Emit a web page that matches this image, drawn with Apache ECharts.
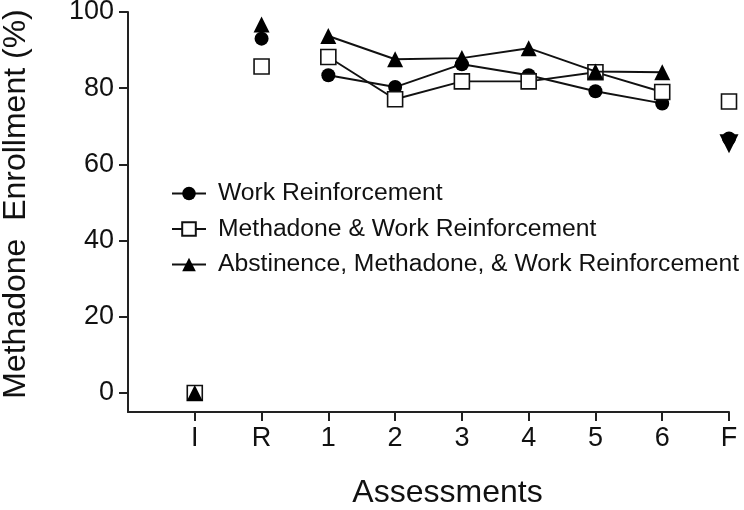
<!DOCTYPE html>
<html>
<head>
<meta charset="utf-8">
<script src="https://cdn.jsdelivr.net/npm/echarts@6/dist/echarts.min.js"></script>
<style>html,body{margin:0;padding:0;background:#fff}#c{width:744px;height:510px}</style>
</head>
<body>
<div id="c"></div>
<script>
const categories = ['I', 'R', '1', '2', '3', '4', '5', '6', 'F'];
const yTicks = [0, 20, 40, 60, 80, 100];
const workReinf = [0, 93.0, 83.4, 80.3, 86.3, 83.4, 79.2, 76.0, 66.8];
const methWorkReinf = [0, 85.7, 88.2, 77.1, 81.8, 81.8, 84.2, 79.0, 76.5];
const abstMethWorkReinf = [0, 96.7, 93.7, 87.6, 87.9, 90.5, 84.4, 84.2, 65.4];
const names = ['Work Reinforcement', 'Methadone & Work Reinforcement', 'Abstinence, Methadone, & Work Reinforcement'];
const connected = [2, 3, 4, 5, 6, 7];   // assessments 1..6 are joined by lines
const isolated = [0, 1, 8];             // I, R, F stand alone

const FONT = '"Liberation Sans", Arial, sans-serif';
const styles = [
  {symbol: 'circle', symbolSize: 14, itemStyle: {color: '#000', borderColor: '#000', borderWidth: 0, opacity: 1}},
  {symbol: 'rect', symbolSize: 15, itemStyle: {color: '#fff', borderColor: '#111', borderWidth: 1.6, opacity: 1}},
  {symbol: 'triangle', symbolSize: 16, itemStyle: {color: '#000', borderColor: '#000', borderWidth: 0, opacity: 1}}
];
const groups = [workReinf, methWorkReinf, abstMethWorkReinf];

const series = [];
groups.forEach((vals, g) => {
  const st = styles[g];
  series.push({
    name: names[g], type: 'line', z: 2 + g,
    symbol: st.symbol, symbolSize: st.symbolSize, itemStyle: st.itemStyle,
    lineStyle: {color: '#111', width: 1.9},
    showAllSymbol: true, animation: false,
    data: connected.map(i => [i, vals[i]])
  });
  series.push({
    name: names[g] + ' ', type: 'scatter', z: 2 + g,
    symbol: st.symbol, symbolSize: st.symbolSize, itemStyle: st.itemStyle,
    animation: false,
    data: isolated.map(i => (g === 2 && i === 8) ? {value: [i, vals[i]], symbolRotate: 180, symbolSize: 19} : [i, vals[i]])
  });
});

const chart = echarts.init(document.getElementById('c'), null, {renderer: 'canvas'});
chart.setOption({
  backgroundColor: '#fff',
  animation: false,
  grid: {left: 128, right: 15, top: 12, bottom: 98, containLabel: false, outerBoundsMode: 'none'},
  legend: {
    data: names, orient: 'vertical', left: 166, top: 176,
    itemWidth: 34, itemHeight: 17, itemGap: 10.5,
    textStyle: {fontFamily: FONT, fontSize: 24.7, color: '#111', lineHeight: 24, padding: [0, 0, 0, 7]}
  },
  xAxis: {
    type: 'value', min: -1, max: 8, interval: 1,
    name: 'Assessments', nameLocation: 'middle', nameGap: 65,
    nameTextStyle: {fontFamily: FONT, fontSize: 32, color: '#111', padding: [0, 0, 0, 38]},
    axisLine: {onZero: false, lineStyle: {color: '#222', width: 2}},
    axisTick: {show: true, inside: false, length: 9, lineStyle: {color: '#222', width: 2}, customValues: categories.map((c, i) => i)},
    axisLabel: {customValues: categories.map((c, i) => i), formatter: v => categories[v] ?? '', fontFamily: FONT, fontSize: 27, color: '#111', margin: 13},
    splitLine: {show: false}
  },
  yAxis: {
    type: 'value', min: -5, max: 100,
    name: 'Methadone  Enrollment (%)', nameLocation: 'middle', nameGap: 96,
    nameTextStyle: {fontFamily: FONT, fontSize: 32, color: '#111', padding: [0, 0, 0, 16]},
    axisLine: {show: true, onZero: false, lineStyle: {color: '#222', width: 2}},
    axisTick: {show: true, length: 9, lineStyle: {color: '#222', width: 2}, customValues: yTicks},
    axisLabel: {customValues: yTicks, fontFamily: FONT, fontSize: 27, color: '#111', margin: 14},
    splitLine: {show: false}
  },
  series: series
});
</script>
</body>
</html>
